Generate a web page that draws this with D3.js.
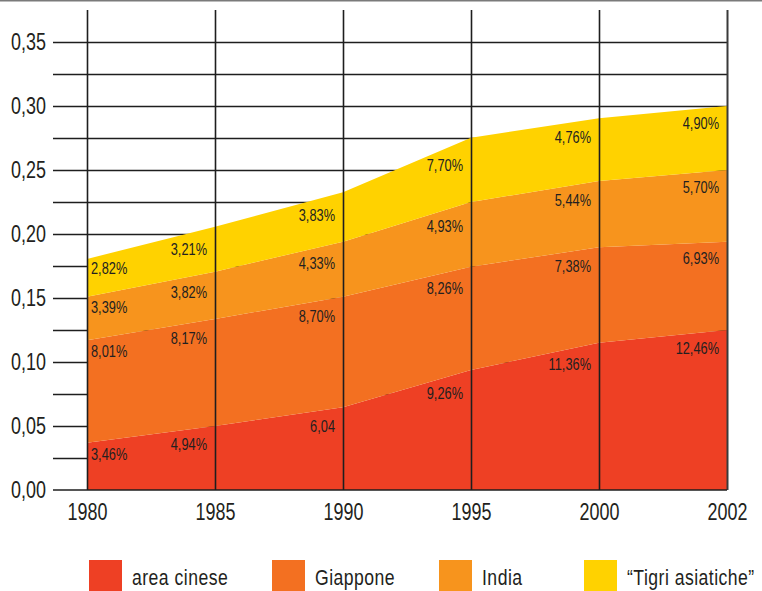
<!DOCTYPE html>
<html>
<head>
<meta charset="utf-8">
<script src="https://cdn.jsdelivr.net/npm/d3@7"></script>
<style>
  html, body { margin: 0; padding: 0; background: #fff; }
  svg { display: block; font-family: "Liberation Sans", Arial, sans-serif; }
</style>
</head>
<body>
<svg id="chart" width="762" height="591"></svg>
<script>
// ---- data ----
const years = ["1980", "1985", "1990", "1995", "2000", "2002"];
const seriesNames = ["area cinese", "Giappone", "India", "\u201CTigri asiatiche\u201D"];
const areaCinese = [0.037, 0.050, 0.0646, 0.0938, 0.115, 0.125];
const giappone   = [0.080, 0.0836, 0.0864, 0.0807, 0.0746, 0.069];
const india      = [0.034, 0.037, 0.043, 0.0505, 0.0518, 0.056];
const tigri      = [0.0295, 0.0351, 0.0386, 0.0502, 0.049, 0.050];
const labelsCinese   = ["3,46%", "4,94%", "6,04", "9,26%", "11,36%", "12,46%"];
const labelsGiappone = ["8,01%", "8,17%", "8,70%", "8,26%", "7,38%", "6,93%"];
const labelsIndia    = ["3,39%", "3,82%", "4,33%", "4,93%", "5,44%", "5,70%"];
const labelsTigri    = ["2,82%", "3,21%", "3,83%", "7,70%", "4,76%", "4,90%"];
const yLabelTicks = [0, 0.05, 0.10, 0.15, 0.20, 0.25, 0.30, 0.35];
const yGridTicks  = [0.025, 0.05, 0.075, 0.10, 0.125, 0.15, 0.175, 0.20, 0.225, 0.25, 0.275, 0.30, 0.325, 0.35];

const colors = ["#EE4024", "#F37021", "#F7941D", "#FFD200"];
const textColor = "#231f20";

// ---- build table ----
const keys = ["c", "g", "i", "t"];
const table = years.map((yr, k) => ({ year: yr, c: areaCinese[k], g: giappone[k], i: india[k], t: tigri[k] }));
const labels = [labelsCinese, labelsGiappone, labelsIndia, labelsTigri];

const svg = d3.select("#chart");
const plotLeft = 87, plotRight = 727, plotTop = 42, plotBottom = 490, gridLeft = 53;

const x = d3.scalePoint().domain(years).range([plotLeft, plotRight]);
const y = d3.scaleLinear().domain([0, 0.35]).range([plotBottom, plotTop]);

// top grey rule
svg.append("line").attr("x1", 0).attr("x2", 762).attr("y1", 0.75).attr("y2", 0.75)
  .attr("stroke", "#7a7a7a").attr("stroke-width", 1.5);

// horizontal grid
const gGrid = svg.append("g").attr("transform", `translate(${gridLeft},0)`)
  .call(d3.axisLeft(y).tickValues(yGridTicks).tickSize(-(plotRight - gridLeft)).tickFormat(""));
gGrid.select(".domain").remove();
gGrid.selectAll(".tick line").attr("stroke", "#1e1e1e").attr("stroke-width", 1.3);

// stacked areas
const stack = d3.stack().keys(keys);
const layers = stack(table);
const area = d3.area()
  .x(d => x(d.data.year))
  .y0(d => y(d[0]))
  .y1(d => y(d[1]));
svg.append("g").selectAll("path").data(layers).join("path")
  .attr("d", area)
  .attr("fill", (d, k) => colors[k]);

// vertical grid
const gV = svg.append("g").attr("transform", `translate(0,${plotBottom})`)
  .call(d3.axisBottom(x).tickSize(-(plotBottom - 10)).tickFormat(""));
gV.select(".domain").remove();
gV.selectAll(".tick line").attr("stroke", (d, k) => k === years.length - 1 ? "#3a3a3a" : "#1e1e1e")
  .attr("stroke-width", (d, k) => k === years.length - 1 ? 2 : 1.6);

// baseline
svg.append("line").attr("x1", gridLeft).attr("x2", plotRight).attr("y1", y(0)).attr("y2", y(0))
  .attr("stroke", "#1e1e1e").attr("stroke-width", 1.6);

// y tick labels
const gY = svg.append("g").attr("transform", `translate(46,0)`)
  .call(d3.axisLeft(y).tickValues(yLabelTicks).tickSize(0).tickPadding(0)
    .tickFormat(d => d3.format(".2f")(d).replace(".", ",")));
gY.select(".domain").remove();
gY.selectAll("text").attr("font-size", 23).attr("fill", textColor).attr("x", 0)
  .attr("font-family", "Liberation Sans, Arial, sans-serif").attr("transform", "scale(0.78,1)");

// x tick labels
const gX = svg.append("g").attr("transform", `translate(0,${plotBottom})`)
  .call(d3.axisBottom(x).tickSize(0).tickPadding(0));
gX.select(".domain").remove();
gX.selectAll("text").attr("font-size", 23).attr("fill", textColor).attr("dy", null).attr("y", 30)
  .attr("font-family", "Liberation Sans, Arial, sans-serif").attr("transform", "scale(0.78,1)");

// value labels
const labelG = svg.append("g").attr("font-size", 16).attr("fill", textColor);
layers.forEach((layer, s) => {
  layer.forEach((pt, k) => {
    const first = k === 0;
    const px = x(pt.data.year);
    const tx = first ? px + 4 : px - 8;
    // boundary height at the label centre
    const cx = first ? px + 22 : px - 30;
    const nb = first ? layer[1] : layer[k - 1];
    const nx = x(nb.data.year);
    const t = (cx - px) / (nx - px);
    const by = y(pt[1]) + t * (y(nb[1]) - y(pt[1]));
    labelG.append("text")
      .attr("transform", `translate(${tx},${by + 15}) scale(0.8,1)`)
      .attr("dominant-baseline", "central")
      .attr("text-anchor", first ? "start" : "end")
      .text(labels[s][k]);
  });
});

// legend
const legendX = [89, 272, 439, 584];
const lg = svg.append("g");
seriesNames.forEach((name, k) => {
  lg.append("rect").attr("x", legendX[k]).attr("y", 560).attr("width", 33).attr("height", 31).attr("fill", colors[k]);
  lg.append("text").attr("transform", `translate(${legendX[k] + 43},585) scale(0.8,1)`).attr("font-size", 22)
    .attr("fill", textColor).attr("letter-spacing", 0.6).text(name);
});
</script>
</body>
</html>
